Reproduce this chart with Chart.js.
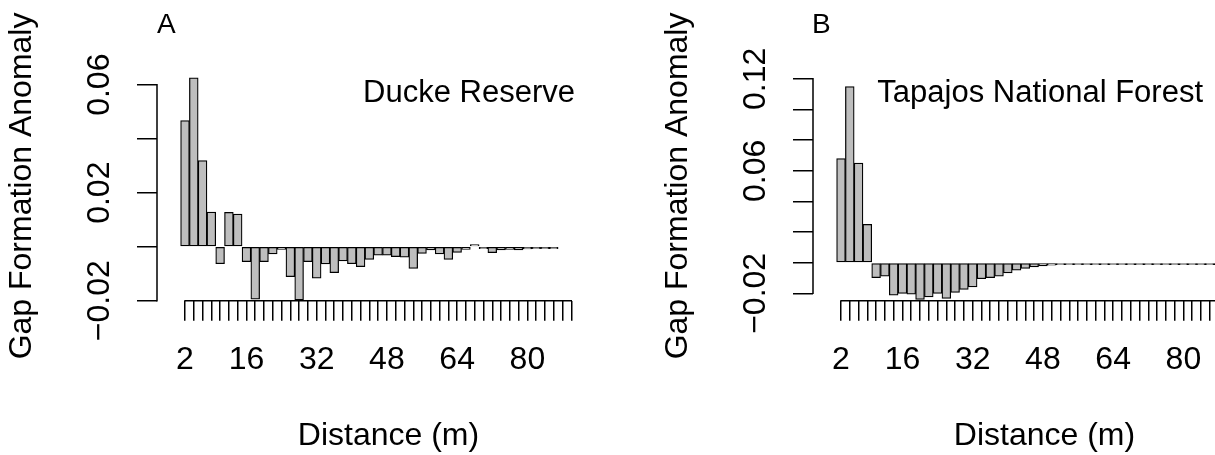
<!DOCTYPE html>
<html><head><meta charset="utf-8">
<script src="https://cdn.jsdelivr.net/npm/chart.js@4/dist/chart.umd.min.js"></script>
<style>
html,body{margin:0;padding:0;background:#fff;overflow:hidden;width:1215px;height:455px;position:relative;}
canvas{position:absolute;top:0;}
#cA{left:0;}
#cB{left:656px;}
</style></head><body>
<canvas id="cA" width="640" height="455"></canvas>
<canvas id="cB" width="640" height="455"></canvas>
<script>
// ---- data ----
const distances = [2,4,6,8,10,12,14,16,18,20,22,24,26,28,30,32,34,36,38,40,42,44,46,48,50,52,54,56,58,60,62,64,66,68,70,72,74,76,78,80,82,84,86,88,90];
const xTickLabels = [2,16,32,48,64,80];

const valuesA = [0.0467, 0.0625, 0.0319, 0.0128, -0.0063, 0.0127, 0.0121, -0.0055, -0.0194, -0.0055,
  -0.0027, -0.0010, -0.0111, -0.0197, -0.0055, -0.0117, -0.0064, -0.0096, -0.0053, -0.0063,
  -0.0074, -0.0047, -0.0031, -0.0031, -0.0037, -0.0039, -0.0080, -0.0025, -0.0012, -0.0027,
  -0.0047, -0.0021, -0.0010, 0.0006, -0.0003, -0.0022, -0.0012, -0.0010, -0.0012, -0.0008,
  -0.0004, -0.0003, -0.0003, null, null];

const valuesB = [0.0680, 0.1150, 0.0650, 0.0250, -0.0097, -0.0088, -0.0212, -0.0201, -0.0205, -0.0240,
  -0.0223, -0.0201, -0.0233, -0.0194, -0.0175, -0.0158, -0.0105, -0.0097, -0.0088, -0.0066,
  -0.0049, -0.0038, -0.0027, -0.0021, -0.0016, -0.0012, -0.0009, -0.0007, -0.0006, -0.0005,
  -0.0005, -0.0004, -0.0004, -0.0003, -0.0003, -0.0003, -0.0002, -0.0002, -0.0002, -0.0001,
  -0.0001, -0.0001, -0.0001, -0.0001, -0.0001];

const yTicksA = [-0.02, 0, 0.02, 0.04, 0.06];
const yLabelsA = ['\u22120.02', '', '0.02', '', '0.06'];
const yTicksB = [-0.02, 0, 0.02, 0.04, 0.06, 0.08, 0.10, 0.12];
const yLabelsB = ['\u22120.02', '', '', '', '0.06', '', '', '0.12'];

// ---- styling ----
const FONT = "'Liberation Sans', Arial, Helvetica, sans-serif";
Chart.defaults.font.family = FONT;
Chart.defaults.color = '#000';

const axisLines = {
  id: 'axisLines',
  afterDraw(chart, args, opts) {
    const {ctx, chartArea, scales: {x, y}} = chart;
    const yt = opts.yTicks;
    ctx.save();
    ctx.strokeStyle = '#000';
    ctx.lineWidth = 1.5;
    ctx.lineCap = 'square';
    ctx.beginPath();
    ctx.moveTo(chartArea.left, y.getPixelForValue(yt[0]));
    ctx.lineTo(chartArea.left, y.getPixelForValue(yt[yt.length - 1]));
    ctx.moveTo(x.getPixelForValue(distances[0]), chartArea.bottom);
    ctx.lineTo(x.getPixelForValue(distances[distances.length - 1]), chartArea.bottom);
    ctx.stroke();
    ctx.restore();
  }
};

const panelText = {
  id: 'panelText',
  afterDraw(chart, args, opts) {
    const {ctx, chartArea} = chart;
    ctx.save();
    ctx.fillStyle = '#000';
    ctx.textBaseline = 'alphabetic';
    ctx.font = '28px ' + FONT;
    ctx.textAlign = 'left';
    ctx.fillText(opts.letter, chartArea.left + opts.letterDx, 33);
    ctx.font = '31px ' + FONT;
    ctx.textAlign = 'right';
    ctx.fillText(opts.site, chartArea.left + opts.siteDx, 102);
    ctx.restore();
  }
};

function makeChart(id, values, yTicks, yLabels, yMin, yMax, letter, letterDx, site, siteDx) {
  return new Chart(document.getElementById(id), {
    type: 'bar',
    data: {
      datasets: [{
        data: distances.map((d, i) => ({x: d, y: values[i]})),
        backgroundColor: '#bebebe',
        borderColor: '#000',
        borderWidth: 1.25,
        borderSkipped: false,
        barPercentage: 1,
        categoryPercentage: 1,
        minBarLength: 2,
        clip: false
      }]
    },
    options: {
      responsive: false,
      animation: false,
      layout: {padding: {top: 71.2, left: 0, right: 20, bottom: 0}},
      plugins: {
        legend: {display: false},
        tooltip: {enabled: false},
        axisLines: {yTicks: yTicks},
        panelText: {letter: letter, letterDx: letterDx, site: site, siteDx: siteDx}
      },
      scales: {
        x: {
          type: 'linear', min: -4.38, max: 101.1, offset: false,
          grid: {display: true, offset: false, drawOnChartArea: false, drawTicks: true, tickLength: 20, color: '#000', lineWidth: 1.5},
          border: {display: false},
          afterBuildTicks: s => { s.ticks = distances.map(v => ({value: v})); },
          afterFit: s => { s.height = 154.3; },
          ticks: {
            autoSkip: false, maxRotation: 0, minRotation: 0, padding: 20, color: '#000',
            font: {size: 32},
            callback: v => xTickLabels.includes(v) ? String(v) : ''
          },
          title: {display: true, text: 'Distance (m)', color: '#000', font: {size: 32}, padding: {top: 0, bottom: 0}}
        },
        y: {
          type: 'linear', min: yMin, max: yMax,
          grid: {drawOnChartArea: false, drawTicks: true, tickLength: 20, color: '#000', lineWidth: 1.5},
          border: {display: false},
          afterBuildTicks: s => { s.ticks = yTicks.map(v => ({value: v})); },
          afterFit: s => { s.width = 157; },
          ticks: {
            autoSkip: false,
            minRotation: 90, maxRotation: 90, crossAlign: 'center', padding: -3.5, color: '#000',
            font: {size: 32},
            callback: (v, i) => yLabels[i]
          },
          title: {display: true, text: 'Gap Formation Anomaly', color: '#000', font: {size: 32}, padding: {top: 3, bottom: 0}}
        }
      }
    },
    plugins: [axisLines, panelText]
  });
}

makeChart('cA', valuesA, yTicksA, yLabelsA, -0.02, 0.065, 'A', 0, 'Ducke Reserve', 418);
makeChart('cB', valuesB, yTicksB, yLabelsB, -0.0248, 0.125, 'B', -1, 'Tapajos National Forest', 390);
</script>
</body></html>
